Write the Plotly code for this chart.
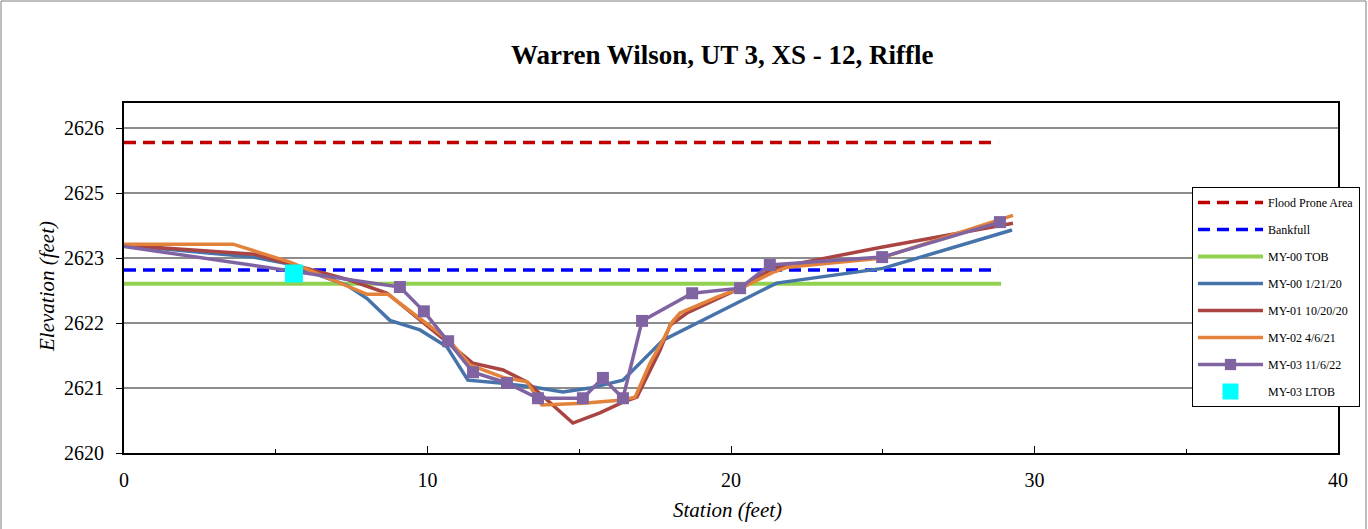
import plotly.graph_objects as go

# ---- data (station in feet, elevation in feet) ----
flood_x = [0.0, 28.8]
flood_y = [2625.50, 2625.50]

bankfull_x = [0.0, 28.8]
bankfull_y = [2623.24, 2623.24]

tob_x = [0.0, 28.9]
tob_y = [2623.00, 2623.00]

my00_x = [0.0, 4.25, 5.4, 7.35, 8.0, 8.76, 9.75, 10.64, 11.33, 12.39, 13.48, 14.46,
          15.35, 16.44, 17.76, 21.5, 25.0, 29.26]
my00_y = [2623.68, 2623.47, 2623.35, 2622.97, 2622.74, 2622.35, 2622.18, 2621.88,
          2621.29, 2621.24, 2621.17, 2621.08, 2621.15, 2621.29, 2622.00, 2623.01,
          2623.27, 2623.95]

my01_x = [0.0, 4.3, 7.45, 8.67, 10.68, 11.5, 12.49, 13.28, 13.94, 14.79, 15.68,
          16.44, 16.9, 17.66, 17.99, 18.55, 20.3, 21.38, 24.91, 29.29]
my01_y = [2623.68, 2623.52, 2623.06, 2622.83, 2621.95, 2621.59, 2621.47, 2621.26,
          2620.94, 2620.53, 2620.71, 2620.90, 2620.99, 2621.82, 2622.26, 2622.48,
          2622.92, 2623.27, 2623.64, 2624.07]

my02_x = [0.0, 3.59, 5.47, 8.01, 8.7, 10.74, 11.4, 12.49, 13.28, 13.77, 15.12,
          16.44, 16.84, 17.33, 17.76, 18.06, 18.32, 19.54, 20.4, 21.38, 21.85,
          24.91, 29.29]
my02_y = [2623.70, 2623.70, 2623.38, 2622.81, 2622.81, 2621.98, 2621.56, 2621.34,
          2621.26, 2620.85, 2620.88, 2620.94, 2620.99, 2621.59, 2622.00, 2622.32,
          2622.48, 2622.76, 2622.94, 2623.20, 2623.29, 2623.45, 2624.21]

my03_x = [0.0, 9.09, 9.88, 10.68, 11.5, 12.62, 13.64, 15.12, 15.78, 16.44, 17.07,
          18.72, 20.3, 21.28, 24.98, 28.86]
my03_y = [2623.66, 2622.94, 2622.51, 2621.98, 2621.43, 2621.24, 2620.97, 2620.97,
          2621.33, 2620.97, 2622.34, 2622.83, 2622.92, 2623.33, 2623.47, 2624.09]

ltob_x = [5.6]
ltob_y = [2623.18]

y_tick_vals = [2620.0, 2621.15, 2622.3, 2623.45, 2624.6, 2625.75]
y_tick_text = ["2620", "2621", "2622", "2623", "2625", "2626"]
x_tick_vals = [0, 10, 20, 30, 40]
x_tick_text = ["0", "10", "20", "30", "40"]

SERIF = "Liberation Serif"

fig = go.Figure()

def add_line(x, y, name, color, width, dash=None):
    fig.add_trace(go.Scatter(
        x=x, y=y, mode="lines", name=name, legendgroup=name,
        line=dict(color=color, width=width, dash=dash),
    ))

add_line(flood_x, flood_y, "Flood Prone Area", "#C00000", 3.5, "12px,7px")
add_line(bankfull_x, bankfull_y, "Bankfull", "#0000FF", 3.5, "12px,7px")
add_line(tob_x, tob_y, "MY-00 TOB", "#92D050", 4)
add_line(my00_x, my00_y, "MY-00 1/21/20", "#4674AA", 3.5)
add_line(my01_x, my01_y, "MY-01 10/20/20", "#A94442", 3.5)
add_line(my02_x, my02_y, "MY-02 4/6/21", "#E3823B", 3.5)

# first survey point sits on the axis, so its marker is hidden
marker_sizes = [0] + [12] * (len(my03_x) - 1)
fig.add_trace(go.Scatter(
    x=my03_x, y=my03_y, mode="lines+markers", name="MY-03 11/6/22",
    legendgroup="MY-03 11/6/22",
    line=dict(color="#8064A2", width=3.5),
    marker=dict(symbol="square", size=marker_sizes, color="#8064A2",
                opacity=1, line=dict(width=0)),
))
fig.add_trace(go.Scatter(
    x=ltob_x, y=ltob_y, mode="markers", name="MY-03 LTOB", legendgroup="MY-03 LTOB",
    marker=dict(symbol="square", size=18, color="#00FFFF", line=dict(width=0)),
))

# plot area: x 124..1338 px, y 103..453 px
W, H = 1368, 529
L, R, T, B = 124, 1338, 103, 453

def px(xp):
    return (xp - L) / (R - L)

def py(yp):
    return (B - yp) / (B - T)

fig.update_layout(
    width=W, height=H,
    margin=dict(l=L, r=W - R, t=T, b=H - B, pad=0, autoexpand=False),
    paper_bgcolor="white", plot_bgcolor="white",
    font=dict(family=SERIF, color="black", size=20),
    showlegend=True,
    legend=dict(
        x=px(1192), y=py(187), xanchor="left", yanchor="top",
        bgcolor="white", bordercolor="black", borderwidth=1,
        font=dict(family=SERIF, size=12, color="black"),
        tracegroupgap=8, itemwidth=65,
    ),
    xaxis=dict(
        range=[0, 40], tickvals=x_tick_vals, ticktext=x_tick_text,
        ticks="inside", ticklen=7, tickwidth=1, tickcolor="black",
        minor=dict(dtick=5, ticks="inside", ticklen=4, tickcolor="black", showgrid=False),
        showline=True, linecolor="black", linewidth=2, mirror=True,
        showgrid=False, zeroline=False,
        tickfont=dict(family=SERIF, size=20),
        ticklabelstandoff=8,
    ),
    yaxis=dict(
        range=[2620, 2626.2], tickvals=y_tick_vals, ticktext=y_tick_text,
        ticks="outside", ticklen=6, tickwidth=1, tickcolor="black",
        showline=True, linecolor="black", linewidth=2, mirror=True,
        showgrid=True, gridcolor="#8C8C8C", gridwidth=1.5, zeroline=False,
        tickfont=dict(family=SERIF, size=20),
        ticklabelstandoff=8,
    ),
    annotations=[
        dict(text="<b>Warren Wilson, UT 3, XS - 12, Riffle</b>", xref="paper", yref="paper",
             x=px(722), y=py(55), xanchor="center", yanchor="middle", showarrow=False,
             font=dict(family=SERIF, size=27, color="black")),
        dict(text="<i>Elevation (feet)</i>", xref="paper", yref="paper",
             x=px(47), y=py(287), xanchor="center", yanchor="middle", showarrow=False,
             textangle=-90, font=dict(family=SERIF, size=21, color="black")),
        dict(text="<i>Station (feet)</i>", xref="paper", yref="paper",
             x=px(727), y=py(510), xanchor="center", yanchor="middle", showarrow=False,
             font=dict(family=SERIF, size=21, color="black")),
    ],
    shapes=[
        dict(type="rect", xref="paper", yref="paper",
             x0=px(1), x1=px(1366), y0=py(1), y1=py(560),
             line=dict(color="#7F7F7F", width=1), fillcolor="rgba(0,0,0,0)", layer="below"),
    ],
)

fig.write_html("out.html")
